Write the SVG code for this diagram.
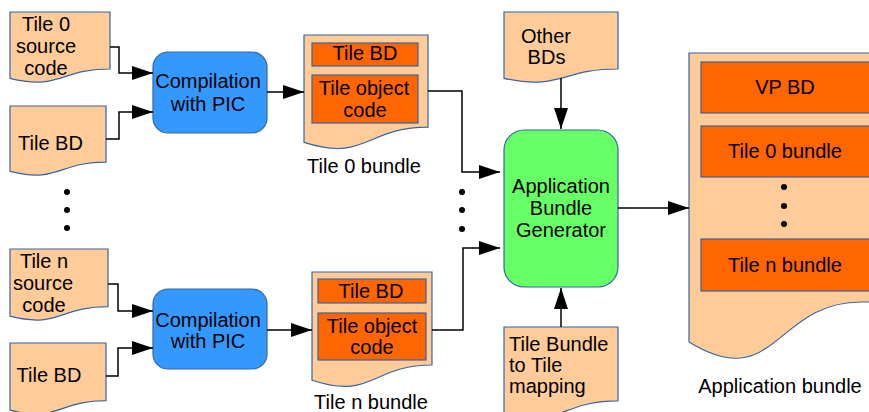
<svg xmlns="http://www.w3.org/2000/svg" width="869" height="412" viewBox="0 0 869 412">
  <style>
    .doc { fill: #ffcc99; stroke: #3465a4; stroke-width: 1.2; }
    .part { fill: #ff6600; stroke: #3465a4; stroke-width: 1.2; }
    .proc { fill: #3399ff; stroke: #3465a4; stroke-width: 1.2; }
    .gen { fill: #66ff66; stroke: #3465a4; stroke-width: 1.2; }
    text { font-family: "Liberation Sans", Arial, sans-serif; font-size: 20px; fill: #000; }
    .c { text-anchor: middle; }
    .wire { fill: none; stroke: #000; stroke-width: 1.5; marker-end: url(#arrow); }
    .dot { fill: #000; }
  </style>
  <defs>
    <marker id="arrow" markerUnits="userSpaceOnUse" markerWidth="21" markerHeight="14" refX="21" refY="7" orient="auto">
      <path d="M0,0 L21,7 L0,14 Z" fill="#000"/>
    </marker>
  </defs>

  <!-- Tile 0 inputs -->
  <g id="tile0-source">
    <path class="doc" d="M10,12 H110 V69 C60,69 60,90.6 10,78.3 Z"/>
    <text class="c" x="46" y="31">Tile 0</text>
    <text class="c" x="46" y="53">source</text>
    <text class="c" x="46" y="75">code</text>
  </g>
  <g id="tile0-bd">
    <path class="doc" d="M10,106 H106 V162.1 C58,162.1 58,183.5 10,171.4 Z"/>
    <text class="c" x="50.5" y="150">Tile BD</text>
  </g>
  <g id="compile0">
    <rect class="proc" x="153" y="52" width="114" height="81" rx="15" ry="15"/>
    <text class="c" x="208" y="88">Compilation</text>
    <text class="c" x="208" y="111">with PIC</text>
  </g>
  <g id="tile0-bundle">
    <path class="doc" d="M304,35 H428 V127.2 C366,127.2 366,162.3 304,142.4 Z"/>
    <rect class="part" x="312" y="43" width="106" height="23"/>
    <text class="c" x="365" y="60">Tile BD</text>
    <rect class="part" x="312" y="75" width="106" height="48"/>
    <text class="c" x="364" y="95">Tile object</text>
    <text class="c" x="365" y="117">code</text>
    <text class="c" x="364" y="173">Tile 0 bundle</text>
  </g>

  <!-- Tile n inputs -->
  <g id="tilen-source">
    <path class="doc" d="M10,249 H108 V306.7 C59,306.7 59,328.7 10,316.2 Z"/>
    <text class="c" x="44" y="268">Tile n</text>
    <text class="c" x="43" y="290">source</text>
    <text class="c" x="44" y="312">code</text>
  </g>
  <g id="tilen-bd">
    <path class="doc" d="M10,343 H106 V400.7 C58,400.7 58,422.7 10,410.2 Z"/>
    <text class="c" x="49" y="382">Tile BD</text>
  </g>
  <g id="compilen">
    <rect class="proc" x="153" y="289" width="114" height="80" rx="15" ry="15"/>
    <text class="c" x="208" y="326.5">Compilation</text>
    <text class="c" x="208" y="348">with PIC</text>
  </g>
  <g id="tilen-bundle">
    <path class="doc" d="M312,272 H432 V365 C372,365 372,400.4 312,380.3 Z"/>
    <rect class="part" x="318" y="279" width="108" height="24"/>
    <text class="c" x="371" y="298">Tile BD</text>
    <rect class="part" x="318" y="313" width="108" height="47"/>
    <text class="c" x="372" y="333">Tile object</text>
    <text class="c" x="372" y="354">code</text>
    <text class="c" x="371" y="409">Tile n bundle</text>
  </g>

  <!-- Generator and its side inputs -->
  <g id="other-bds">
    <path class="doc" d="M504,12 H618 V69 C561,69 561,90.6 504,78.3 Z"/>
    <text class="c" x="546" y="43">Other</text>
    <text class="c" x="546.5" y="64">BDs</text>
  </g>
  <g id="generator">
    <rect class="gen" x="504" y="130" width="114" height="157" rx="20" ry="20"/>
    <text class="c" x="561" y="193">Application</text>
    <text class="c" x="561" y="215">Bundle</text>
    <text class="c" x="561" y="237">Generator</text>
  </g>
  <g id="tile-mapping">
    <path class="doc" d="M504,327 H618 V400.8 C561,400.8 561,428.8 504,412.9 Z"/>
    <text x="509" y="351">Tile Bundle</text>
    <text x="509" y="372">to Tile</text>
    <text x="509" y="393">mapping</text>
  </g>

  <!-- Application bundle output -->
  <g id="app-bundle">
    <path class="doc" d="M689,53 H885 V302 H861 C775,302 775,395 689,342 Z"/>
    <rect class="part" x="701" y="62" width="180" height="51"/>
    <text class="c" x="785" y="94">VP BD</text>
    <rect class="part" x="701" y="126" width="180" height="51"/>
    <text class="c" x="785" y="158">Tile 0 bundle</text>
    <circle class="dot" cx="784" cy="187" r="3"/>
    <circle class="dot" cx="784" cy="206" r="3"/>
    <circle class="dot" cx="784" cy="224" r="3"/>
    <rect class="part" x="701" y="239" width="180" height="52"/>
    <text class="c" x="785" y="272">Tile n bundle</text>
    <text class="c" x="780" y="393">Application bundle</text>
  </g>

  <!-- Ellipsis markers between tile rows -->
  <g id="ellipsis-left">
    <circle class="dot" cx="67" cy="192" r="3"/>
    <circle class="dot" cx="67" cy="210" r="3"/>
    <circle class="dot" cx="67" cy="228" r="3"/>
  </g>
  <g id="ellipsis-mid">
    <circle class="dot" cx="462" cy="192" r="3"/>
    <circle class="dot" cx="462" cy="210" r="3"/>
    <circle class="dot" cx="462" cy="229" r="3"/>
  </g>

  <!-- Connectors -->
  <g id="connectors">
    <path class="wire" d="M110,47 H119 V73 H153"/>
    <path class="wire" d="M106,139 H119 V112 H153"/>
    <path class="wire" d="M267,92 H304"/>
    <path class="wire" d="M108,284 H118 V311 H153"/>
    <path class="wire" d="M106,376 H118 V348 H153"/>
    <path class="wire" d="M267,330 H312"/>
    <path class="wire" d="M428,91 H462 V172 H500"/>
    <path class="wire" d="M432,330 H463 V248 H500"/>
    <path class="wire" d="M561,78 V129"/>
    <path class="wire" d="M561,327 V288"/>
    <path class="wire" d="M618,208 H689"/>
  </g>
</svg>
